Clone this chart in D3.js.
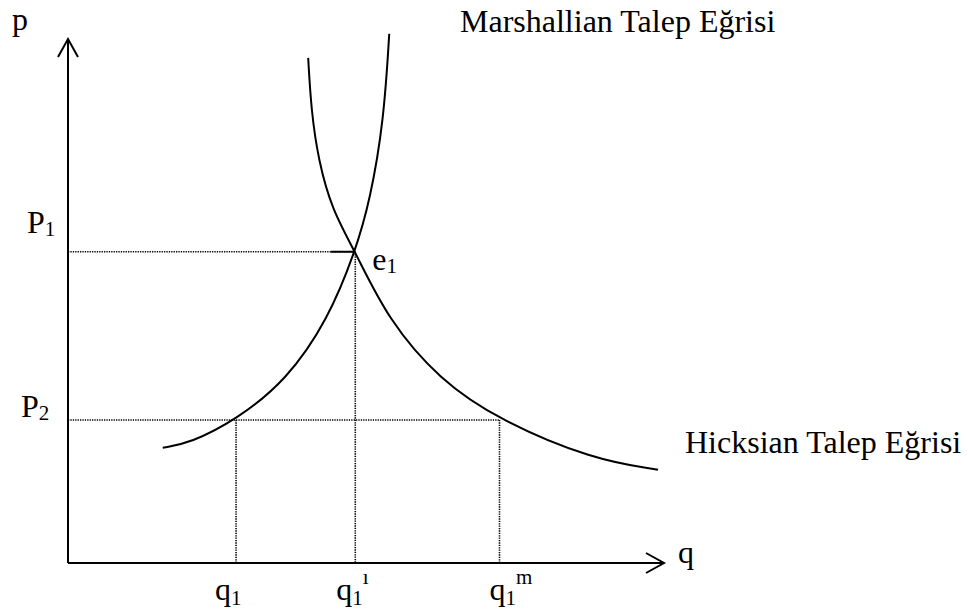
<!DOCTYPE html>
<html>
<head>
<meta charset="utf-8">
<script src="https://cdn.jsdelivr.net/npm/d3@7"></script>
<style>
  html, body { margin: 0; padding: 0; background: #fff; }
  svg { display: block; }
  text { font-family: "Liberation Serif", "Times New Roman", serif; fill: #000; }
</style>
</head>
<body>
<div id="chart"></div>
<script>
// curve points (q and p on a 0-100 scale)
const hicksQ = [15.9, 20.5, 28.2, 36.7, 43.6, 48.2, 50.7, 53.0, 53.9];
const hicksP = [22.0, 22.9, 27.3, 34.9, 46.4, 59.4, 69.3, 84.5, 101.0];
const marshQ = [40.3, 40.8, 42.0, 44.3, 48.2, 53.7, 62.4, 72.3, 88.1, 99.0];
const marshP = [96.4, 86.5, 76.9, 67.4, 59.4, 46.4, 34.9, 27.3, 19.7, 17.8];

// reference levels
const priceLevels = [59.4, 27.3];        // P1, P2
const qtyLevels = [28.2, 48.2, 72.4];    // q1, q1', q1m
const tickStart = 44.1;                  // left end of the short solid mark at e1

const width = 968, height = 614;

const svg = d3.select("#chart")
  .append("svg")
  .attr("width", width)
  .attr("height", height);

// scales
const x = d3.scaleLinear().domain([0, 100]).range([68, 664]);
const y = d3.scaleLinear().domain([0, 100]).range([563, 39]);

const line = d3.line()
  .x(d => x(d[0]))
  .y(d => y(d[1]))
  .curve(d3.curveBasis);

const [P1, P2] = priceLevels;
const [q1, q1i, q1m] = qtyLevels;

// dotted guide lines
const guides = [
  [[0, P1], [q1i, P1]],
  [[q1i, P1], [q1i, 0]],
  [[0, P2], [q1m, P2]],
  [[q1, P2], [q1, 0]],
  [[q1m, P2], [q1m, 0]]
];
guides.forEach(g => {
  svg.append("line")
    .attr("x1", x(g[0][0])).attr("y1", y(g[0][1]))
    .attr("x2", x(g[1][0])).attr("y2", y(g[1][1]))
    .attr("stroke", "#000")
    .attr("stroke-width", 1.6)
    .attr("stroke-dasharray", "1.3,1.1");
});

// short solid mark at P1 left of e1
svg.append("line")
  .attr("x1", x(tickStart)).attr("y1", y(P1))
  .attr("x2", x(q1i)).attr("y2", y(P1))
  .attr("stroke", "#000")
  .attr("stroke-width", 2);

// axes
svg.append("path")
  .attr("d", `M${x(0)},${y(0)}V${y(100)}M${x(0)},${y(0)}H${x(100)}`)
  .attr("fill", "none")
  .attr("stroke", "#000")
  .attr("stroke-width", 2);

// arrow heads
svg.append("path")
  .attr("d", `M${x(0) - 10},${y(100) + 18}L${x(0)},${y(100)}L${x(0) + 10},${y(100) + 18}`)
  .attr("fill", "none")
  .attr("stroke", "#000")
  .attr("stroke-width", 2);
svg.append("path")
  .attr("d", `M${x(100) - 18},${y(0) - 10}L${x(100)},${y(0)}L${x(100) - 18},${y(0) + 10}`)
  .attr("fill", "none")
  .attr("stroke", "#000")
  .attr("stroke-width", 2);

// demand curves
svg.append("path")
  .datum(d3.zip(hicksQ, hicksP))
  .attr("d", line)
  .attr("fill", "none")
  .attr("stroke", "#000")
  .attr("stroke-width", 2);
svg.append("path")
  .datum(d3.zip(marshQ, marshP))
  .attr("d", line)
  .attr("fill", "none")
  .attr("stroke", "#000")
  .attr("stroke-width", 2);

// labels: main text with optional subscript / superscript
function label(px, py, main, sub, sup, subDy, supDx) {
  const t = svg.append("text")
    .attr("x", px)
    .attr("y", py)
    .attr("font-size", 32);
  t.append("tspan").text(main);
  if (sub) t.append("tspan").attr("font-size", 21).attr("dy", subDy).text(sub);
  if (sup) t.append("tspan").attr("font-size", 21).attr("dx", supDx || 0).attr("dy", -16 - subDy).text(sup);
  return t;
}

label(12, 30, "p");
label(x(100) + 14, y(0), "q");
label(27, y(P1) - 19, "P", "1", null, 3);
label(21, y(P2) - 3, "P", "2", null, 3);
label(x(q1i) + 17, y(P1) + 18, "e", "1", null, 3);
label(x(q1) - 21, 600, "q", "1", null, 5);
label(x(q1i) - 19, 600, "q", "1", "ı", 5, 0);
label(x(q1m) - 10, 600, "q", "1", "m", 5);

svg.append("text")
  .attr("x", 460).attr("y", 32)
  .attr("font-size", 32)
  .text("Marshallian Talep Eğrisi");
svg.append("text")
  .attr("x", 685).attr("y", 453)
  .attr("font-size", 32)
  .text("Hicksian Talep Eğrisi");
</script>
</body>
</html>
